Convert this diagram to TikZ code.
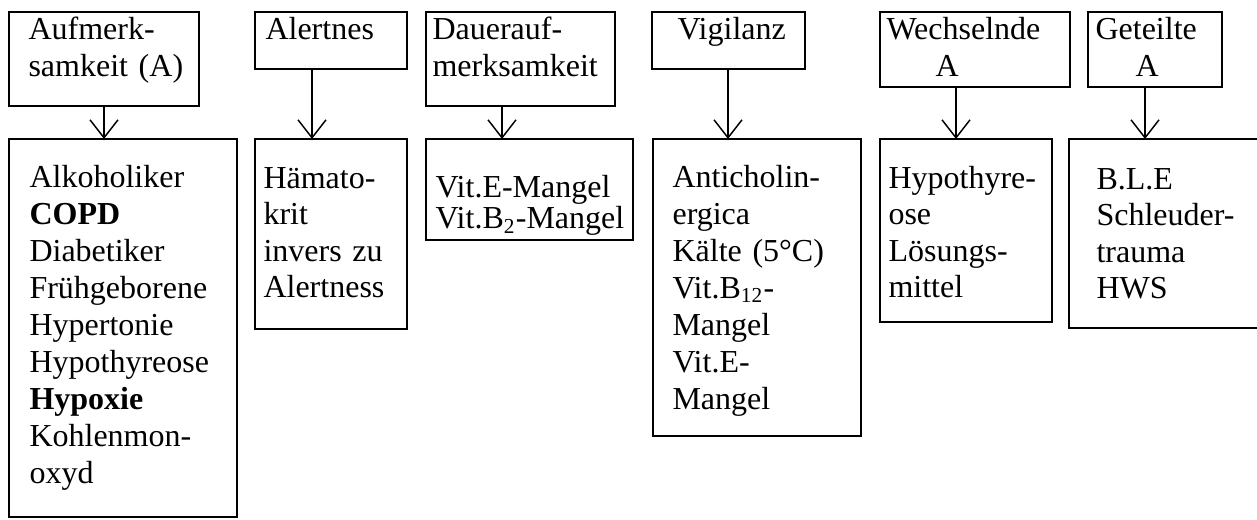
\documentclass[tikz,border=0pt]{standalone}
\usepackage{fontspec}
\setmainfont{Liberation Serif}
\usetikzlibrary{arrows.meta}
\begin{document}
\begin{tikzpicture}[x=0.375pt,y=-0.375pt,
  box/.style 2 args={draw, line width=0.75pt, inner sep=0pt, outer sep=0pt,
    anchor=north west, minimum width=#1*0.375pt, minimum height=#2*0.375pt},
  txt/.style={anchor=base west, inner sep=0pt, align=left, text width=90mm,
    font=\fontsize{12pt}{#1}\selectfont},
  txt/.default=13.875pt,
  arr/.style={line width=0.55pt, -{Straight Barb[length=6.75pt,width=10.5pt,line width=0.55pt]}}]
\useasboundingbox (0,0) rectangle (1257,519);
\clip (0,0) rectangle (1257,519);

% upper row: kinds of attention
\node[box={190}{94}] (t1) at (9,12)    {};
\node[box={152}{57}] (t2) at (255,12)  {};
\node[box={189}{94}] (t3) at (426,12)  {};
\node[box={153}{57}] (t4) at (652,12)  {};
\node[box={190}{75}] (t5) at (880,12)  {};
\node[box={134}{75}] (t6) at (1088,12) {};

\node[txt] (t1x) at (28,39.5)   {Aufmerk-\\samkeit (A)};
\node[txt] (t2x) at (265,39.5)  {Alertnes};
\node[txt] (t3x) at (432,39.5)  {Dauerauf-\\merksamkeit};
\node[txt] (t4x) at (677,39.5)  {Vigilanz};
\node[txt] (t5x) at (886,39.5)  {Wechselnde\\\hspace*{18.4pt}A};
\node[txt] (t6x) at (1095,39.5) {Geteilte\\\hspace*{15pt}A};

% lower row: causes of impairment
\node[box={228}{378}] (b1) at (9,139)    {};
\node[box={152}{190}] (b2) at (255,139)  {};
\node[box={207}{101}] (b3) at (426,139)  {};
\node[box={208}{297}] (b4) at (653,139)  {};
\node[box={172}{183}] (b5) at (880,139)  {};
\node[box={201}{189}] (b6) at (1069,139) {};

\node[txt] (b1x) at (29,187) {Alkoholiker\\\textbf{COPD}\\Diabetiker\\Frühgeborene\\Hypertonie\\Hypothyreose\\\textbf{Hypoxie}\\Kohlenmon-\\oxyd};
\node[txt=13.7pt] (b2x) at (263,188) {Hämato-\\krit\\invers zu\\Alertness};
\node[txt=10.125pt] (b3x) at (435,197) {Vit.E-Mangel\\Vit.B\textsubscript{2}-Mangel};
\node[txt] (b4x) at (672,187) {Anticholin-\\ergica\\Kälte (5°C)\\Vit.B\textsubscript{12}-\\Mangel\\Vit.E-\\Mangel};
\node[txt=13.7pt] (b5x) at (888,188) {Hypothyre-\\ose\\Lösungs-\\mittel};
\node[txt=13.7pt] (b6x) at (1096,189) {B.L.E\\Schleuder-\\trauma\\HWS};

% arrow positions
\coordinate (a1) at (104,0);
\coordinate (a2) at (312,0);
\coordinate (a3) at (502,0);
\coordinate (a4) at (728,0);
\coordinate (a5) at (956,0);
\coordinate (a6) at (1145,0);

\draw[arr] (t1.south -| a1) -- (b1.north -| a1);
\draw[arr] (t2.south -| a2) -- (b2.north -| a2);
\draw[arr] (t3.south -| a3) -- (b3.north -| a3);
\draw[arr] (t4.south -| a4) -- (b4.north -| a4);
\draw[arr] (t5.south -| a5) -- (b5.north -| a5);
\draw[arr] (t6.south -| a6) -- (b6.north -| a6);
\end{tikzpicture}
\end{document}
